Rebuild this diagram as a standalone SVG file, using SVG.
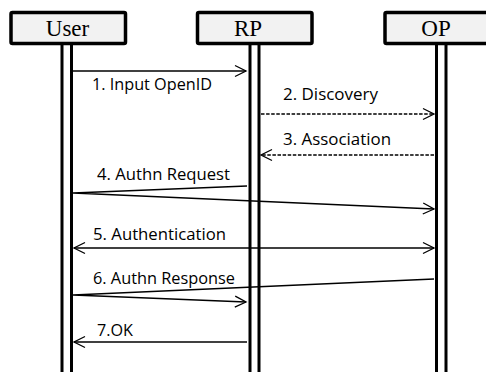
<svg xmlns="http://www.w3.org/2000/svg" width="486" height="372" viewBox="0 0 486 372">
<style>
.box{fill:#f2f2f2;stroke:#000;stroke-width:3.5}
.title{font-family:"Liberation Serif","Times New Roman",serif;font-size:23px;fill:#000;text-anchor:middle}
.life{stroke:#000;stroke-width:3;fill:none}
.msg{stroke:#000;stroke-width:1.3;fill:none}
.dash{stroke-dasharray:3.5 1.6}
.lbl{font-family:"Open Sans","Liberation Sans",sans-serif;font-size:16px;fill:#000}
</style>
<defs>
<marker id="head" markerUnits="userSpaceOnUse" markerWidth="14" markerHeight="14" viewBox="-12 -7 14 14" refX="0" refY="0" orient="auto-start-reverse">
<path d="M-11,-5.5 L0,0 L-11,5.5" fill="none" stroke="#000" stroke-width="1.3"/>
</marker>
</defs>
<rect width="486" height="372" fill="#fff"/>
<g id="user">
<line class="life" x1="62" y1="44" x2="62" y2="372"/>
<line class="life" x1="71.5" y1="44" x2="71.5" y2="372"/>
<rect class="box" x="11" y="12.5" width="114.5" height="31" rx="1.5"/>
<text class="title" x="67.5" y="35.5">User</text>
</g>
<g id="rp">
<line class="life" x1="250" y1="44" x2="250" y2="372"/>
<line class="life" x1="259" y1="44" x2="259" y2="372"/>
<rect class="box" x="197.5" y="12.5" width="114.5" height="31" rx="1.5"/>
<text class="title" x="248" y="35.5">RP</text>
</g>
<g id="op">
<line class="life" x1="436.5" y1="44" x2="436.5" y2="372"/>
<line class="life" x1="446" y1="44" x2="446" y2="372"/>
<rect class="box" x="385" y="12.5" width="114.5" height="31" rx="1.5"/>
<text class="title" x="436" y="35.5">OP</text>
</g>
<g id="connectors">
<line class="msg" x1="73" y1="71" x2="246" y2="71" marker-end="url(#head)"/>
<line class="msg dash" x1="261" y1="114" x2="434" y2="114" marker-end="url(#head)"/>
<line class="msg dash" x1="434" y1="155" x2="261" y2="155" marker-end="url(#head)"/>
<polyline class="msg" points="247,186 73,193 434,209" marker-end="url(#head)"/>
<line class="msg" x1="74" y1="248" x2="434" y2="248" marker-start="url(#head)" marker-end="url(#head)"/>
<polyline class="msg" points="434,279 73,295 246,302" marker-end="url(#head)"/>
<line class="msg" x1="247" y1="342" x2="74" y2="342" marker-end="url(#head)"/>
</g>
<g id="labels">
<text class="lbl" x="92" y="89.5" textLength="120" lengthAdjust="spacingAndGlyphs">1. Input OpenID</text>
<text class="lbl" x="283" y="100" textLength="95" lengthAdjust="spacingAndGlyphs">2. Discovery</text>
<text class="lbl" x="283" y="145" textLength="108" lengthAdjust="spacingAndGlyphs">3. Association</text>
<text class="lbl" x="97" y="180" textLength="133" lengthAdjust="spacingAndGlyphs">4. Authn Request</text>
<text class="lbl" x="93" y="240" textLength="133" lengthAdjust="spacingAndGlyphs">5. Authentication</text>
<text class="lbl" x="93" y="284" textLength="142" lengthAdjust="spacingAndGlyphs">6. Authn Response</text>
<text class="lbl" x="97" y="336" textLength="36" lengthAdjust="spacingAndGlyphs">7.OK</text>
</g>
</svg>
